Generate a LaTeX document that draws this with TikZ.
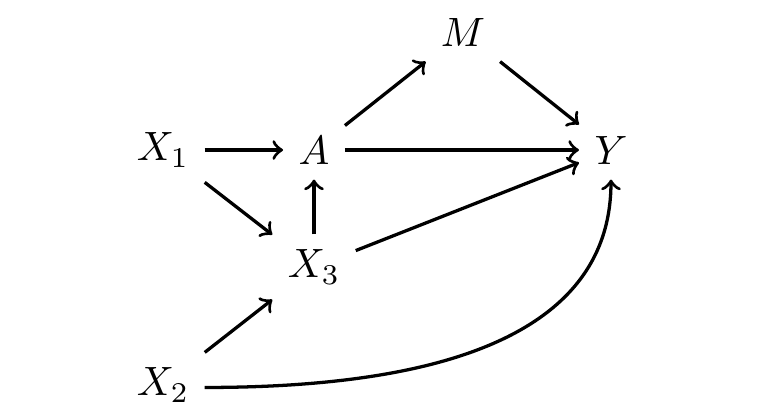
\documentclass[tikz,border=0pt]{standalone}
\begin{document}
\begin{tikzpicture}[x=0.244pt,y=-0.244pt,
  var/.style={inner sep=3.6pt},
  arr/.style={->,line width=0.8pt}]
\useasboundingbox (0,0) rectangle (778,419);
\node[var] (M) at (463,32) {$M$};
\node[var] (X1) at (163,150) {$X_1$};
\node[var] (A) at (314,150) {$A$};
\node[var] (Y) at (611,150) {$Y$};
\node[var] (X3) at (314,267) {$X_3$};
\node[var] (X2) at (163,385) {$X_2$};
\draw[arr] (X1) -- (A);
\draw[arr] (A) -- (Y);
\draw[arr] (A) -- (M);
\draw[arr] (M) -- (Y);
\draw[arr] (X1) -- (X3);
\draw[arr] (X3) -- (A);
\draw[arr] (X3) -- (Y);
\draw[arr] (X2) -- (X3);
\draw[arr] ([yshift=-0.6pt]X2.east) to[out=0,in=-90] (Y.south);
\end{tikzpicture}
\end{document}
